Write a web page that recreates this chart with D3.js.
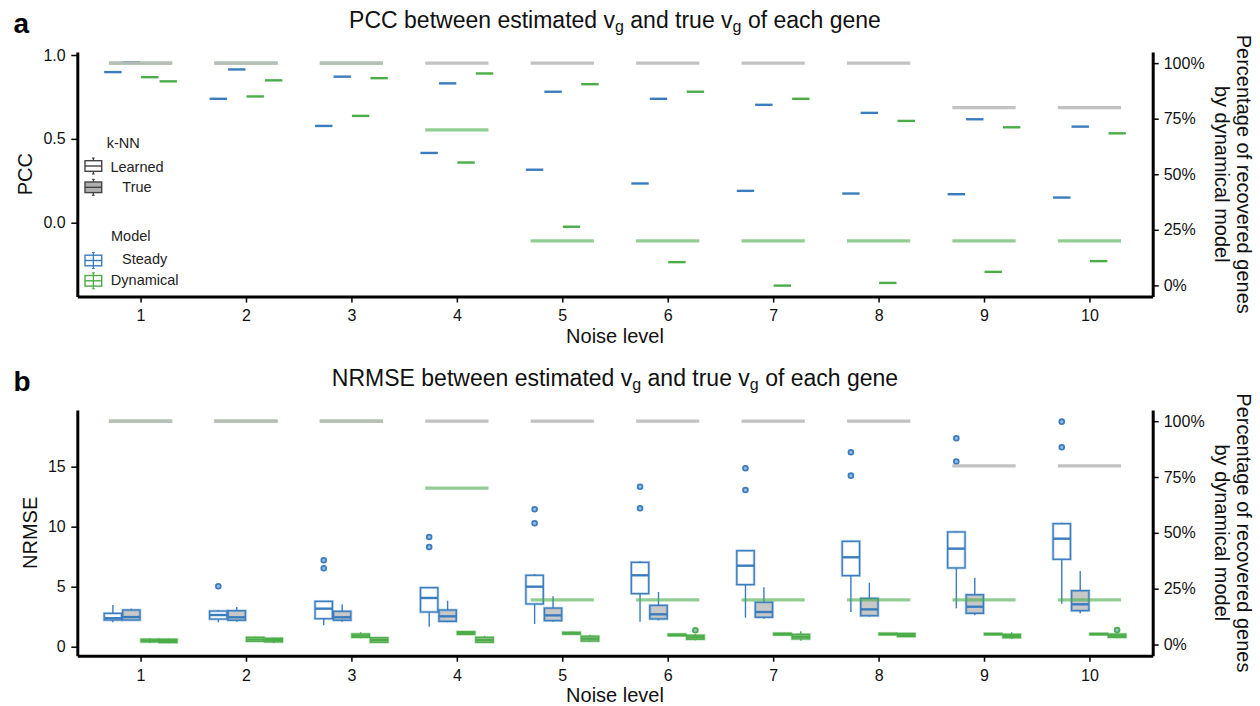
<!DOCTYPE html>
<html><head><meta charset="utf-8">
<script src="https://cdn.jsdelivr.net/npm/d3@7"></script>
<style>
body{margin:0;background:#fff;}
svg{display:block;font-family:"Liberation Sans",Arial,Helvetica,sans-serif;}
</style>
</head><body><svg id="chart" width="1260" height="706"></svg>
<script>
// ---------------- DATA ----------------
const noiseLevels = [1,2,3,4,5,6,7,8,9,10];

// Panel a: PCC (one value per noise level)
const pccSteadyLearned    = [0.898,0.739,0.577,0.416,0.316,0.234,0.190,0.174,0.170,0.150];
const pccSteadyTrue       = [0.955,0.914,0.871,0.831,0.781,0.739,0.703,0.655,0.617,0.573];
const pccDynamicalLearned = [0.868,0.753,0.637,0.359,-0.024,-0.235,-0.375,-0.359,-0.293,-0.229];
const pccDynamicalTrue    = [0.843,0.849,0.862,0.890,0.826,0.781,0.739,0.607,0.569,0.533];

// Panel b: NRMSE box stats [lowWhisker, q1, median, q3, highWhisker]
const nrmseSteadyLearned = [
  [2.03,2.22,2.37,2.78,3.47],[2.03,2.30,2.64,2.97,3.05],[1.78,2.33,3.17,3.78,3.78],
  [1.67,2.89,4.06,4.92,4.92],[1.89,3.56,5.00,5.95,6.06],[2.08,4.42,5.95,7.03,7.14],
  [2.42,5.17,6.75,8.00,8.06],[2.89,5.92,7.45,8.78,8.83],[3.20,6.56,8.17,9.56,9.64],
  [3.58,7.28,9.00,10.25,10.33]];
const nrmseSteadyLearnedOutliers = [[],[5.03],[7.20,6.53],[9.14,8.31],[11.45,10.28],
  [13.33,11.53],[14.87,13.06],[16.20,14.25],[17.37,15.42],[18.75,16.62]];
const nrmseSteadyTrue = [
  [2.22,2.22,2.47,3.06,3.17],[2.08,2.20,2.45,3.00,3.30],[2.08,2.20,2.45,2.95,3.53],
  [2.03,2.11,2.53,3.06,3.83],[2.08,2.17,2.61,3.22,4.20],[2.20,2.31,2.70,3.45,4.56],
  [2.33,2.45,2.89,3.70,4.95],[2.50,2.58,3.11,4.03,5.33],[2.61,2.78,3.33,4.33,5.75],
  [2.78,3.00,3.53,4.67,6.31]];
const nrmseSteadyTrueOutliers = [[],[],[],[],[],[],[],[],[],[]];
const nrmseDynamicalLearned = [
  [0.30,0.40,0.50,0.62,0.68],[0.40,0.45,0.60,0.78,0.82],[0.70,0.78,0.92,1.06,1.20],
  [0.98,1.03,1.14,1.25,1.30],[1.00,1.05,1.12,1.20,1.25],[0.90,0.92,0.97,1.05,1.08],
  [0.95,0.98,1.05,1.12,1.15],[0.97,1.00,1.05,1.12,1.15],[0.98,1.00,1.05,1.10,1.12],
  [0.98,1.00,1.05,1.10,1.12]];
const nrmseDynamicalLearnedOutliers = [[],[],[],[],[],[],[],[],[],[]];
const nrmseDynamicalTrue = [
  [0.28,0.35,0.48,0.62,0.68],[0.30,0.40,0.55,0.70,0.75],[0.30,0.37,0.56,0.75,0.80],
  [0.30,0.37,0.56,0.78,0.90],[0.40,0.47,0.67,0.87,1.00],[0.53,0.62,0.78,0.95,1.06],
  [0.50,0.65,0.83,1.03,1.28],[0.80,0.85,0.95,1.10,1.12],[0.65,0.75,0.88,1.03,1.20],
  [0.70,0.78,0.92,1.05,1.10]];
const nrmseDynamicalTrueOutliers = [[],[],[],[],[],[1.37],[],[],[],[1.39]];

// Percentage of genes recovered by the dynamical model (right axis)
const pctRecoveredLearned = [100,100,100,100,100,100,100,100,80,80];
const pctRecoveredTrue    = [100,100,100,70,20,20,20,20,20,20];

const pccTicks = [0.0,0.5,1.0];
const nrmseTicks = [0,5,10,15];
const pctTicks = [0,25,50,75,100];

// ---------------- STYLE ----------------
const BLUE = "#3a7dbf", GREEN = "#4aad48", KNN = "#444";
const FILL_LEARNED = "#ffffff", FILL_TRUE = "#c8c8c8";
const svg = d3.select("#chart");

const x = d3.scaleLinear().domain([0.4,10.6]).range([77.3,1152.7]);
const dodge = [-0.2625,-0.0875,0.0875,0.2625];
const boxW = 0.165;

function drawBox(g, xc, stats, y, color, fill, outliers){
  const [lo,q1,med,q3,hi] = stats;
  const x0 = x(xc - boxW/2), x1 = x(xc + boxW/2), xm = x(xc);
  g.append("line").attr("x1",xm).attr("x2",xm).attr("y1",y(hi)).attr("y2",y(q3))
    .attr("stroke",color).attr("stroke-width",1.4);
  g.append("line").attr("x1",xm).attr("x2",xm).attr("y1",y(q1)).attr("y2",y(lo))
    .attr("stroke",color).attr("stroke-width",1.4);
  g.append("rect").attr("x",x0).attr("y",y(q3)).attr("width",x1-x0).attr("height",Math.max(0,y(q1)-y(q3)))
    .attr("fill",fill).attr("stroke",color).attr("stroke-opacity",0.35).attr("stroke-width",2.8);
  g.append("rect").attr("x",x0).attr("y",y(q3)).attr("width",x1-x0).attr("height",Math.max(0,y(q1)-y(q3)))
    .attr("fill","none").attr("stroke",color).attr("stroke-width",1.3);
  g.append("line").attr("x1",x0).attr("x2",x1).attr("y1",y(med)).attr("y2",y(med))
    .attr("stroke",color).attr("stroke-width",2.4);
  (outliers||[]).forEach(o=>{
    g.append("circle").attr("cx",xm).attr("cy",y(o)).attr("r",2.4)
      .attr("fill","#9cc0e3").attr("stroke",color).attr("stroke-width",1.8);
  });
}

function subTitle(t, parts){
  parts.forEach(([s,sub],i)=>{
    const ts = t.append("tspan").text(s);
    if(sub){ ts.attr("font-size","16px").attr("dy",4); }
    else if(i>0 && parts[i-1][1]){ ts.attr("dy",-4); }
  });
}

function panel(cfg){
  const g = svg.append("g");
  const top = cfg.top, bottom = cfg.bottom;
  const y = d3.scaleLinear().domain(cfg.yDomain).range([bottom, top]);
  const yr = d3.scaleLinear().domain([-5,105]).range([bottom, top]);

  cfg.series.forEach((s,si)=>{
    noiseLevels.forEach((lvl,i)=>{
      drawBox(g, lvl + dodge[si], s.stats[i], y, s.color, s.fill, s.outliers ? s.outliers[i] : []);
    });
  });

  noiseLevels.forEach((lvl,i)=>{
    g.append("line").attr("x1",x(lvl-0.3)).attr("x2",x(lvl+0.3))
      .attr("y1",yr(pctRecoveredTrue[i])).attr("y2",yr(pctRecoveredTrue[i]))
      .attr("stroke",GREEN).attr("stroke-opacity",0.6).attr("stroke-width",3.2);
  });
  noiseLevels.forEach((lvl,i)=>{
    g.append("line").attr("x1",x(lvl-0.3)).attr("x2",x(lvl+0.3))
      .attr("y1",yr(pctRecoveredLearned[i])).attr("y2",yr(pctRecoveredLearned[i]))
      .attr("stroke","#bbbbbb").attr("stroke-opacity",0.9).attr("stroke-width",3.2);
  });

  const axL = g.append("g").attr("transform",`translate(${x.range()[0]},0)`)
    .call(d3.axisLeft(y).tickValues(cfg.yTicks).tickFormat(cfg.yFormat).tickSize(6).tickSizeOuter(0).tickPadding(5.6));
  const axR = g.append("g").attr("transform",`translate(${x.range()[1]},0)`)
    .call(d3.axisRight(yr).tickValues(pctTicks).tickFormat(d=>d+"%").tickSize(6).tickSizeOuter(0).tickPadding(5));
  const axB = g.append("g").attr("transform",`translate(0,${bottom})`)
    .call(d3.axisBottom(x).tickValues(noiseLevels).tickFormat(d3.format("d")).tickSize(6).tickSizeOuter(0).tickPadding(7.5));
  [axL,axR,axB].forEach(a=>{
    a.select(".domain").attr("stroke","#000").attr("stroke-width",3);
    a.selectAll(".tick line").attr("stroke","#000").attr("stroke-width",1.5);
    a.selectAll(".tick text").attr("font-size","16px").attr("fill","#111")
      .attr("font-family",'"Liberation Sans",Arial,sans-serif');
  });

  g.append("text").attr("x",13.5).attr("y",top-19).attr("font-size","28px").attr("font-weight","bold").text(cfg.letter);
  const t = g.append("text").attr("x",615).attr("y",top-23.7).attr("text-anchor","middle").attr("font-size","23px").attr("fill","#111");
  subTitle(t, cfg.title);
  g.append("text").attr("x",615).attr("y",bottom+46.5).attr("text-anchor","middle").attr("font-size","20px").attr("fill","#111").text("Noise level");
  g.append("text").attr("transform",`translate(${cfg.yLabelX},${(top+bottom)/2}) rotate(-90)`)
    .attr("text-anchor","middle").attr("font-size","20px").attr("fill","#111").text(cfg.yLabel);
  g.append("text").attr("transform",`translate(1237,${(top+bottom)/2}) rotate(90)`)
    .attr("text-anchor","middle").attr("font-size","20px").attr("fill","#111").text("Percentage of recovered genes");
  g.append("text").attr("transform",`translate(1215,${(top+bottom)/2}) rotate(90)`)
    .attr("text-anchor","middle").attr("font-size","20px").attr("fill","#111").text("by dynamical model");
  return g;
}

const deg = arr => arr.map(v=>[v,v,v,v,v]);

panel({
  letter:"a", top:52, bottom:296.5, yDomain:[-0.44,1.018], yTicks:pccTicks, yFormat:d3.format(".1f"),
  yLabel:"PCC", yLabelX:32.3,
  title:[["PCC between estimated v",false],["g",true],[" and true v",false],["g",true],[" of each gene",false]],
  series:[
    {stats:deg(pccSteadyLearned), color:BLUE, fill:FILL_LEARNED},
    {stats:deg(pccSteadyTrue), color:BLUE, fill:FILL_TRUE},
    {stats:deg(pccDynamicalLearned), color:GREEN, fill:FILL_LEARNED},
    {stats:deg(pccDynamicalTrue), color:GREEN, fill:FILL_TRUE}
  ]
});

panel({
  letter:"b", top:410, bottom:655.7, yDomain:[-0.75,19.72], yTicks:nrmseTicks, yFormat:d3.format("d"),
  yLabel:"NRMSE", yLabelX:37.3,
  title:[["NRMSE between estimated v",false],["g",true],[" and true v",false],["g",true],[" of each gene",false]],
  series:[
    {stats:nrmseSteadyLearned, outliers:nrmseSteadyLearnedOutliers, color:BLUE, fill:FILL_LEARNED},
    {stats:nrmseSteadyTrue, outliers:nrmseSteadyTrueOutliers, color:BLUE, fill:FILL_TRUE},
    {stats:nrmseDynamicalLearned, outliers:nrmseDynamicalLearnedOutliers, color:GREEN, fill:FILL_LEARNED},
    {stats:nrmseDynamicalTrue, outliers:nrmseDynamicalTrueOutliers, color:GREEN, fill:FILL_TRUE}
  ]
});

// ---------------- LEGEND (panel a) ----------------
const lg = svg.append("g");
function legendIcon(yc, color, fill){
  const x0 = 85, x1 = 101.7, xm = (x0+x1)/2;
  lg.append("line").attr("x1",xm).attr("x2",xm).attr("y1",yc-8).attr("y2",yc+8).attr("stroke",color).attr("stroke-width",1.3);
  lg.append("line").attr("x1",xm-1.5).attr("x2",xm+1.5).attr("y1",yc-8).attr("y2",yc-8).attr("stroke",color).attr("stroke-width",1);
  lg.append("line").attr("x1",xm-1.5).attr("x2",xm+1.5).attr("y1",yc+8).attr("y2",yc+8).attr("stroke",color).attr("stroke-width",1);
  lg.append("rect").attr("x",x0).attr("y",yc-5.3).attr("width",x1-x0).attr("height",10.6)
    .attr("fill",fill).attr("stroke",color).attr("stroke-width",1.4);
  lg.append("line").attr("x1",x0).attr("x2",x1).attr("y1",yc).attr("y2",yc).attr("stroke",color).attr("stroke-width",1.4);
}
const legendFont = "14.5px";
lg.append("text").attr("x",106.7).attr("y",148).attr("font-size",legendFont).attr("fill","#222").text("k-NN");
legendIcon(166, KNN, FILL_LEARNED);
legendIcon(187.3, KNN, "#b0b0b0");
lg.append("text").attr("x",137).attr("y",172).attr("text-anchor","middle").attr("font-size",legendFont).attr("fill","#222").text("Learned");
lg.append("text").attr("x",137).attr("y",192.3).attr("text-anchor","middle").attr("font-size",legendFont).attr("fill","#222").text("True");
lg.append("text").attr("x",111).attr("y",241).attr("font-size",legendFont).attr("fill","#222").text("Model");
legendIcon(260.5, BLUE, "none");
legendIcon(280.8, GREEN, "none");
lg.append("text").attr("x",144.7).attr("y",264.4).attr("text-anchor","middle").attr("font-size",legendFont).attr("fill","#222").text("Steady");
lg.append("text").attr("x",144.7).attr("y",285.4).attr("text-anchor","middle").attr("font-size",legendFont).attr("fill","#222").text("Dynamical");
</script>
</body></html>
